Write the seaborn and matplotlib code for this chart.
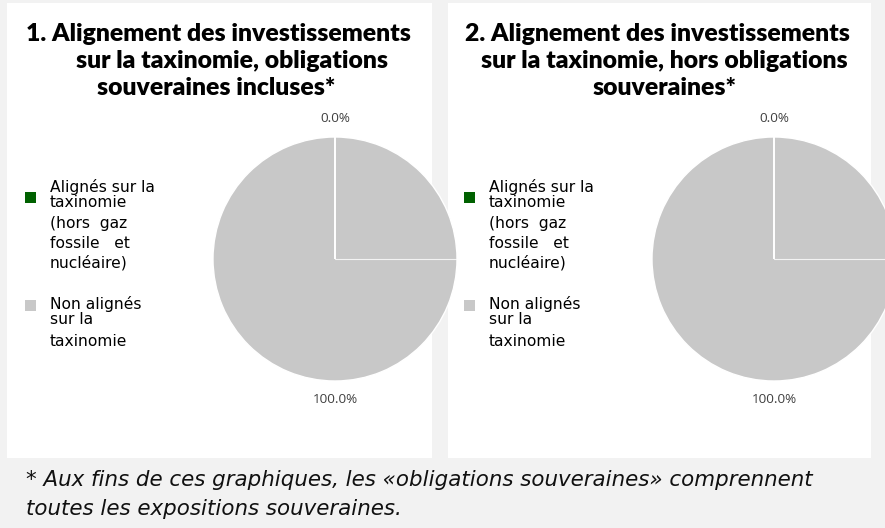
import matplotlib
matplotlib.use("Agg")
import numpy as np
import matplotlib.pyplot as plt
from matplotlib.patches import Rectangle
import seaborn as sns

# --- data -------------------------------------------------------------
categories = [
    "Alignés sur la taxinomie (hors gaz fossile et nucléaire)",
    "Non alignés sur la taxinomie",
]
legend_lines = [
    ["Alignés sur la", "taxinomie", "(hors  gaz", "fossile   et", "nucléaire)"],
    ["Non alignés", "sur la", "taxinomie"],
]
share_incl_sovereign = [0.0, 100.0]
share_excl_sovereign = [0.0, 100.0]
slice_colors = ["#006100", "#c8c8c8"]
panel_titles = [
    ["1. Alignement des investissements", "sur la taxinomie, obligations", "souveraines incluses*"],
    ["2. Alignement des investissements", "sur la taxinomie, hors obligations", "souveraines*"],
]
footnote = ("* Aux fins de ces graphiques, les «obligations souveraines» comprennent\n"
            "toutes les expositions souveraines.")

# --- style ------------------------------------------------------------
sns.set_theme(style="white")
plt.rcParams["font.family"] = ["DejaVu Sans"]

W, H = 885, 528
fig = plt.figure(figsize=(W / 100, H / 100), dpi=100, facecolor="#f2f2f2")


def fx(x):
    return x / W


def fy(y):
    return 1 - y / H


palette = sns.color_palette(slice_colors)

panels = [
    dict(x0=7, x1=432, cx=335, title_cx=[218, 232, 216], legend_x=25, values=share_incl_sovereign),
    dict(x0=448, x1=871, cx=774, title_cx=[657, 664, 665], legend_x=464, values=share_excl_sovereign),
]
cy, radius_px = 259, 122
title_baselines = [41, 68, 95]
legend_baselines = [[192, 207, 228, 248, 268], [309, 324, 346]]
marker_tops = [192, 300]

for p in panels:
    # white card behind each chart
    fig.add_artist(Rectangle((fx(p["x0"]), fy(458)), fx(p["x1"] - p["x0"]), 455 / H,
                             transform=fig.transFigure, facecolor="white",
                             edgecolor="none", zorder=0))

for k, p in enumerate(panels):
    # title
    for line, cxl, by in zip(panel_titles[k], p["title_cx"], title_baselines):
        fig.text(fx(cxl), fy(by), line, ha="center", va="baseline",
                 fontsize=17.8, fontweight=800, family=["Lato", "DejaVu Sans"],
                 color="#000000")

    # pie
    lim = 1.03
    side = 2 * lim * radius_px
    ax = fig.add_axes([fx(p["cx"] - side / 2), fy(cy + side / 2), side / W, side / H])
    wedges, _, autotexts = ax.pie(
        p["values"], colors=palette, startangle=90, counterclock=True,
        autopct="%.1f%%", pctdistance=1.15,
        wedgeprops=dict(edgecolor="white", linewidth=1.0),
        textprops=dict(fontsize=9.7, color="#404040", family=["Open Sans", "DejaVu Sans"]),
    )
    for w in wedges:
        w.set_clip_on(False)
    for t in autotexts:
        t.set_clip_on(False)
    # slice boundaries drawn as radial separators
    for w in wedges:
        a = np.deg2rad(w.theta1)
        ax.plot([0, np.cos(a)], [0, np.sin(a)], color="white", lw=1.4,
                solid_capstyle="butt", clip_on=False)
    ax.plot([0, 1], [0, 0], color="white", lw=0.8, alpha=0.8, clip_on=False)
    ax.set_xlim(-lim, lim)
    ax.set_ylim(-lim, lim)
    ax.set_aspect("equal")
    ax.axis("off")

    # legend
    for i, (lines, bls) in enumerate(zip(legend_lines, legend_baselines)):
        fig.add_artist(Rectangle((fx(p["legend_x"]), fy(marker_tops[i] + 11)), 11 / W, 11 / H,
                                 transform=fig.transFigure, facecolor=palette[i],
                                 edgecolor="none", zorder=3))
        for text, by in zip(lines, bls):
            fig.text(fx(p["legend_x"] + 25), fy(by), text, ha="left", va="baseline",
                     fontsize=11.2, color="#000000")

# footnote
for line, by in zip(footnote.split("\n"), [486, 515]):
    fig.text(fx(26), fy(by), line, ha="left", va="baseline", fontsize=15.4,
             style="italic", color="#111111")

fig.savefig("out.png", dpi=100, facecolor=fig.get_facecolor())
